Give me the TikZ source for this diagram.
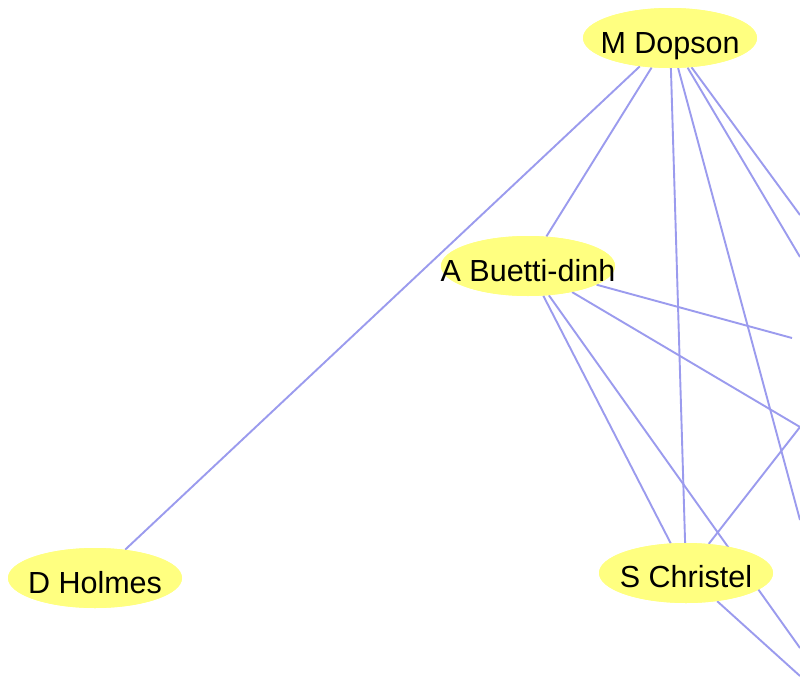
\documentclass[tikz,border=0pt]{standalone}
\usepackage{fontspec}
\setmainfont{Liberation Sans}
\usetikzlibrary{shapes.geometric}
\definecolor{edgeblue}{RGB}{155,155,238}
\definecolor{nodeyellow}{RGB}{255,255,128}
\tikzset{
  person/.style={ellipse, fill=nodeyellow, minimum width=174pt, minimum height=60pt, inner sep=0pt},
  personlabel/.style={anchor=base, inner sep=0pt, font=\fontsize{30.5}{36}\selectfont},
  link/.style={draw=edgeblue, line width=1.9pt}
}
\begin{document}
\begin{tikzpicture}[x=1pt,y=-1pt]
\useasboundingbox (0,0) rectangle (800,677);
\fill[white] (0,0) rectangle (800,677);
% nodes (shapes only, drawn first as reference for borders)
\path
  node[person] (m) at (670,38) {}
  node[person] (a) at (528,266) {}
  node[person] (s) at (686,573) {}
  node[person] (h) at (95,578) {};
% off-picture ends
\coordinate (o1) at (800,520);
\coordinate (o2) at (800,257);
\coordinate (o3) at (800,215);
\coordinate (o4) at (792,338);
\coordinate (o5) at (800,427);
\coordinate (o6) at (800,648);
\coordinate (o7) at (800,676);
% edges
\draw[link] (m) -- (h);
\draw[link] (m) -- (a);
\draw[link] (m) -- (s);
\draw[link] (m) -- (o1);
\draw[link] (m) -- (o2);
\draw[link] (m) -- (o3);
\draw[link] (a) -- (s);
\draw[link] (a) -- (o4);
\draw[link] (a) -- (o5);
\draw[link] (a) -- (o6);
\draw[link] (s) -- (o5);
\draw[link] (s) -- (o7);
% redraw ellipses on top
\foreach \n in {m,a,s,h} {
  \fill[nodeyellow] (\n.center) ellipse[x radius=87pt, y radius=30pt];
}
% labels
\node[personlabel] (tm) at ([yshift=-15pt]m.center) {M Dopson};
\node[personlabel] (ta) at ([yshift=-15pt]a.center) {A Buetti-dinh};
\node[personlabel] (ts) at ([yshift=-14pt]s.center) {S Christel};
\node[personlabel] (th) at ([yshift=-15pt]h.center) {D Holmes};
\end{tikzpicture}
\end{document}
